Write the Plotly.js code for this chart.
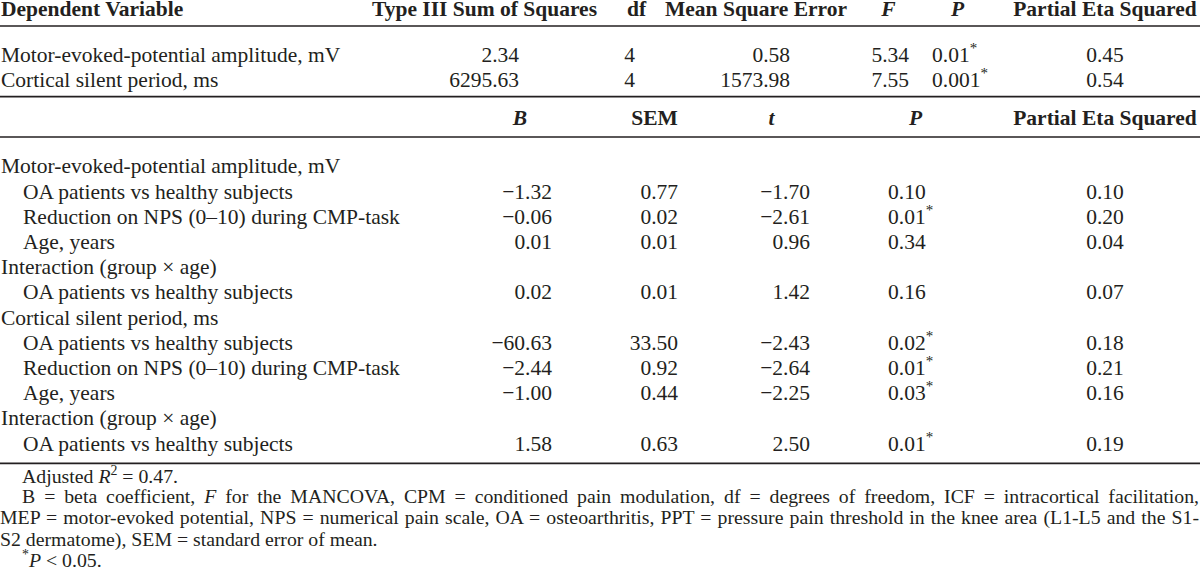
<!DOCTYPE html>
<html><head><meta charset="utf-8">
<script src="https://cdn.plot.ly/plotly-3.0.1.min.js"></script>
<style>html,body{margin:0;padding:0;background:#fff}#chart{width:1200px;height:580px}</style>
</head><body><div id="chart"></div>
<script>
// ---------- data: MANCOVA (upper block) ----------
const dependentVars = ["Motor-evoked-potential amplitude, mV", "Cortical silent period, ms"];
const sumSquares = [2.34, 6295.63];
const dfValues = [4, 4];
const meanSquareError = [0.58, 1573.98];
const fValues = [5.34, 7.55];
const pValuesTop = ["0.01", "0.001"];
const sigTop = [true, true];
const etaTop = [0.45, 0.54];

// ---------- data: regression (lower block) ----------
const rowLabels = [
  "Motor-evoked-potential amplitude, mV",
  "OA patients vs healthy subjects",
  "Reduction on NPS (0–10) during CMP-task",
  "Age, years",
  "Interaction (group × age)",
  "OA patients vs healthy subjects",
  "Cortical silent period, ms",
  "OA patients vs healthy subjects",
  "Reduction on NPS (0–10) during CMP-task",
  "Age, years",
  "Interaction (group × age)",
  "OA patients vs healthy subjects"
];
const rowIndent = [0, 1, 1, 1, 0, 1, 0, 1, 1, 1, 0, 1];
const bValues   = [null, -1.32, -0.06, 0.01, null, 0.02, null, -60.63, -2.44, -1.00, null, 1.58];
const semValues = [null, 0.77, 0.02, 0.01, null, 0.01, null, 33.50, 0.92, 0.44, null, 0.63];
const tValues   = [null, -1.70, -2.61, 0.96, null, 1.42, null, -2.43, -2.64, -2.25, null, 2.50];
const pValues   = [null, "0.10", "0.01", "0.34", null, "0.16", null, "0.02", "0.01", "0.03", null, "0.01"];
const sigValues = [null, false, true, false, null, false, null, true, true, true, null, true];
const etaValues = [null, 0.10, 0.20, 0.04, null, 0.07, null, 0.18, 0.21, 0.16, null, 0.19];

const headerTop = ["Dependent Variable", "Type III Sum of Squares", "df", "Mean Square Error", "<i>F</i>", "<i>P</i>", "Partial Eta Squared"];
const headerBottom = ["<i>B</i>", "SEM", "<i>t</i>", "<i>P</i>", "Partial Eta Squared"];

const footnotes = [
  "Adjusted <i>R</i><sup>2</sup> = 0.47.",
  "B = beta coefficient, <i>F</i> for the MANCOVA, CPM = conditioned pain modulation, df = degrees of freedom, ICF = intracortical facilitation,",
  "MEP = motor-evoked potential, NPS = numerical pain scale, OA = osteoarthritis, PPT = pressure pain threshold in the knee area (L1-L5 and the S1-",
  "S2 dermatome), SEM = standard error of mean.",
  "<sup>*</sup><i>P</i> < 0.05."
];
const footIndent = [1, 1, 0, 0, 1];
const footJustify = [false, true, true, false, false];

// ---------- layout / style ----------
const FONT = "Liberation Serif, Times New Roman, serif";
const INK = "#231f20";
const FS = 21.5, FS_FOOT = 19.8;
const fmt = v => v.toFixed(2).replace("-", "\u2212");
const star = (p, s) => p + (s ? "<sup>*</sup>" : "");

// vertical positions on the reversed y axis
const yHeadTop = 11;
const yTopRows = [57, 82];
const yHeadBottom = 119.8;
const yRow0 = 168, rowStep = 25.2;
const yRows = rowLabels.map((_, i) => yRow0 + i * rowStep);
const yFoot = [478, 498, 519, 540.6, 562];
const ruleY = [26, 96.7, 137, 463.3];

function textTrace(xs, ys, texts, pos, size, bold) {
  return {
    type: "scatter", mode: "text",
    x: xs, y: ys, text: texts,
    textposition: pos, cliponaxis: false,
    textfont: {family: FONT, size: size || FS, color: INK, weight: bold ? "bold" : "normal"},
    hoverinfo: "skip", showlegend: false
  };
}
// a column of the lower block, only rows that carry a value
function lowerCol(xPos, values, toText, pos) {
  const idx = values.map((v, i) => (v === null ? -1 : i)).filter(i => i >= 0);
  return textTrace(idx.map(() => xPos), idx.map(i => yRows[i]), idx.map(i => toText(values[i], i)), pos);
}
const same = (arr, v) => arr.map(() => v);

const traces = [];
// upper header
traces.push(textTrace([1], [yHeadTop], [headerTop[0]], "middle right", FS, true));
traces.push(textTrace([484.5, 636.5, 756, 888.5, 957.5, 1105], same(headerTop.slice(1), yHeadTop), headerTop.slice(1), "middle center", FS, true));
// upper block
traces.push(textTrace(same(yTopRows, 1), yTopRows, dependentVars, "middle right"));
traces.push(textTrace(same(yTopRows, 519), yTopRows, sumSquares.map(fmt), "middle left"));
traces.push(textTrace(same(yTopRows, 629.5), yTopRows, dfValues.map(String), "middle center"));
traces.push(textTrace(same(yTopRows, 790), yTopRows, meanSquareError.map(fmt), "middle left"));
traces.push(textTrace(same(yTopRows, 909), yTopRows, fValues.map(fmt), "middle left"));
traces.push(textTrace(same(yTopRows, 932), yTopRows, pValuesTop.map((p, i) => star(p, sigTop[i])), "middle right"));
traces.push(textTrace(same(yTopRows, 1105), yTopRows, etaTop.map(fmt), "middle center"));
// lower header
traces.push(textTrace([520, 654.5, 771.5, 915.5, 1105], same(headerBottom, yHeadBottom), headerBottom, "middle center", FS, true));
// lower block
traces.push(textTrace(rowIndent.map(k => (k ? 23 : 1)), yRows, rowLabels, "middle right"));
traces.push(lowerCol(552, bValues, v => fmt(v), "middle left"));
traces.push(lowerCol(678, semValues, v => fmt(v), "middle left"));
traces.push(lowerCol(810, tValues, v => fmt(v), "middle left"));
traces.push(lowerCol(888, pValues, (p, i) => star(p, sigValues[i]), "middle right"));
traces.push(lowerCol(1105, etaValues, v => fmt(v), "middle center"));
// footnotes
traces.push(textTrace(footIndent.map(k => (k ? 22 : 0)), yFoot, footnotes, "middle right", FS_FOOT));
const FOOT_TRACE = traces.length - 1;

const shapes = ruleY.map(y => ({
  type: "line", xref: "paper", x0: 0, x1: 1, yref: "y", y0: y, y1: y,
  line: {color: INK, width: 1.7}
}));

const layout = {
  width: 1200, height: 580,
  margin: {l: 0, r: 0, t: 0, b: 0},
  paper_bgcolor: "#ffffff", plot_bgcolor: "#ffffff",
  xaxis: {range: [0, 1200], visible: false, fixedrange: true},
  yaxis: {range: [580, 0], visible: false, fixedrange: true},
  shapes: shapes,
  showlegend: false
};

Plotly.newPlot("chart", traces, layout, {staticPlot: true, displayModeBar: false}).then(gd => {
  // justify the wrapped footnote lines to the full width, as in the printed table
  const tr = gd.querySelectorAll(".scatterlayer .trace")[FOOT_TRACE];
  if (!tr) return;
  const texts = tr.querySelectorAll(".textpoint text");
  texts.forEach((t, i) => {
    if (!footJustify[i]) return;
    const startX = footIndent[i] ? 22 : 0;
    const target = 1199 - startX;
    const len = t.getComputedTextLength();
    const spaces = (t.textContent.match(/ /g) || []).length;
    if (spaces > 0 && len < target) t.style.wordSpacing = ((target - len) / spaces) + "px";
  });
});
</script>
</body></html>
